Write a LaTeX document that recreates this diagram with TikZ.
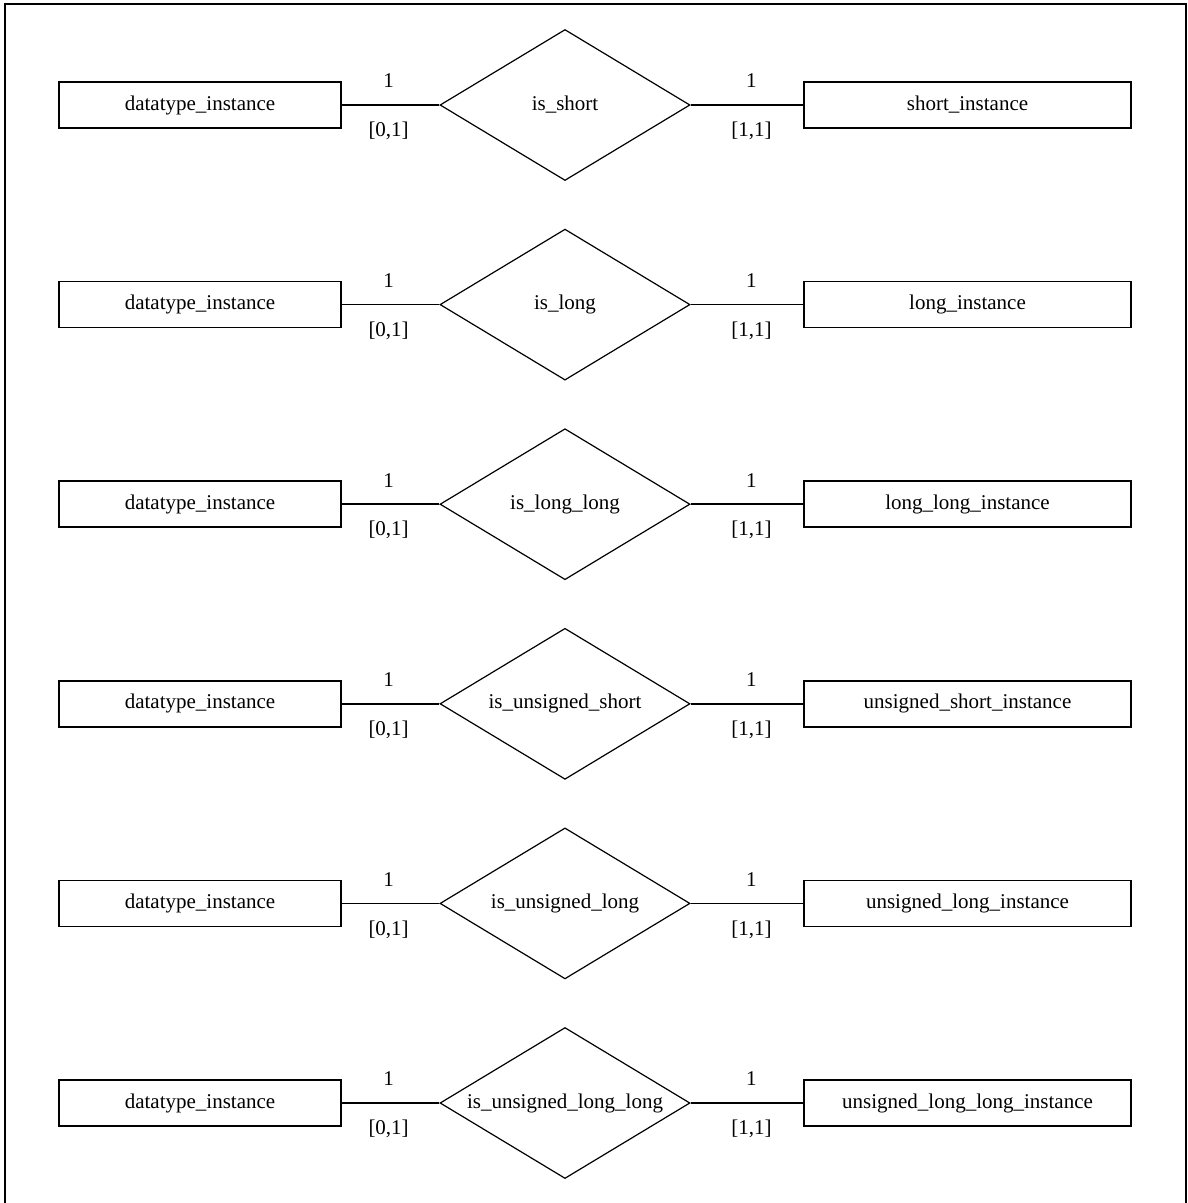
\documentclass[tikz,border=0pt]{standalone}
\usepackage{fontspec}
\setmainfont{Liberation Serif}
\usetikzlibrary{shapes.geometric}

\begin{document}
\begin{tikzpicture}[x=1pt,y=-1pt]
      \tikzset{entity/.style={draw,line width=1.5pt,
          minimum height=46pt,
          inner sep=0pt,
          rectangle},
        relation/.style={draw,line width=1.2pt,
          diamond,aspect=1.656,
          inner sep=0pt,
          minimum width=250pt,
          minimum height=151pt},
        link/.style={line width=1.5pt}
      }
      \useasboundingbox (0,0) rectangle (1187,1203);
      \draw [line width=1.5pt] (5,1210)--(5,4)--(1186,4)--(1186,1210);
      \fontsize{21}{25}\selectfont
      \foreach \rel/\ent [count=\i from 0] in {is\_short/short\_instance,
          is\_long/long\_instance,
          is\_long\_long/long\_long\_instance,
          is\_unsigned\_short/unsigned\_short\_instance,
          is\_unsigned\_long/unsigned\_long\_instance,
          is\_unsigned\_long\_long/unsigned\_long\_long\_instance}{
        \node [entity,minimum width=282pt] (dt\i) at (200,105+199.6*\i) {datatype\_instance};
        \node [relation] (rel\i) at (565,105+199.6*\i) {\rel};
        \node [entity,minimum width=327pt] (ent\i) at (967.5,105+199.6*\i) {\ent};
        \draw [link] (dt\i)--(rel\i) node [pos=0.48,yshift=24pt] {1}
          node [pos=0.48,yshift=-26pt] {[0,1]};
        \draw [link] (rel\i)--(ent\i) node [pos=0.54,yshift=24pt] {1}
          node [pos=0.54,yshift=-26pt] {[1,1]};
      }
    \end{tikzpicture}
\end{document}
